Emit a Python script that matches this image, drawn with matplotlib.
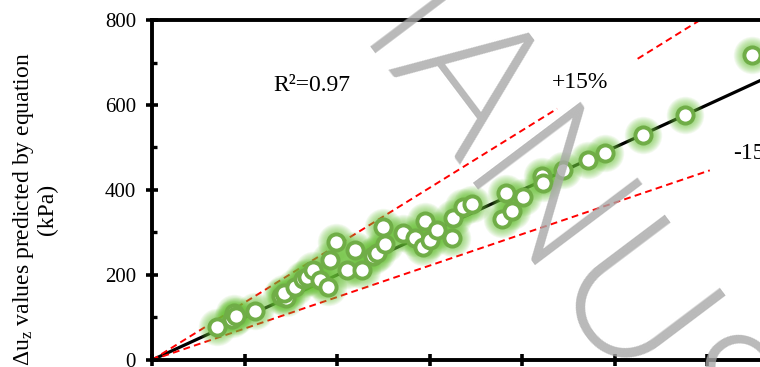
import numpy as np
import matplotlib
matplotlib.use('Agg')
import matplotlib.pyplot as plt

plt.rcParams['font.family'] = ['Liberation Serif', 'DejaVu Serif']
plt.rcParams['mathtext.fontset'] = 'custom'
plt.rcParams['mathtext.rm'] = 'Liberation Serif'
plt.rcParams['mathtext.it'] = 'Liberation Serif:italic'

# measured vs. predicted excess pore pressure (kPa)
measured_kpa = [70, 87, 89, 91, 111, 139, 145, 143, 155, 163, 168, 174, 182, 190,
                192, 199, 211, 219, 227, 239, 243, 250, 252, 271, 284, 293, 295,
                301, 308, 324, 325, 336, 346, 378, 383, 389, 401, 422, 423, 444,
                471, 490, 531, 576, 649]
predicted_kpa = [77, 97, 111, 104, 115, 151, 146, 158, 172, 191, 195, 212, 188, 172,
                 235, 278, 212, 259, 212, 245, 252, 313, 273, 299, 287, 266, 327,
                 282, 306, 287, 334, 360, 367, 332, 393, 351, 384, 433, 417, 447,
                 471, 487, 529, 577, 718]

fit_slope = 1.0
upper_slope = 1.35
lower_slope = 0.74
r_squared = 0.97

GREEN = '#70AD47'
GLOW = '#6cc53a'

fig = plt.figure(figsize=(7.6, 3.67), dpi=100)
ax = fig.add_axes([0.2, 0.0191, 0.9737, 0.9264])
ax.set_xlim(0, 800)
ax.set_ylim(0, 800)

# 1:1 fit and +/-15% bounds
xf = np.array([0, 800])
ax.plot(xf, fit_slope * xf, color='black', lw=2.3, zorder=2, solid_capstyle='butt')
for seg in ([0, 438], [525, 800 / upper_slope]):
    xs = np.array(seg)
    ax.plot(xs, upper_slope * xs, color='red', lw=1.4, dashes=(3.5, 2.2), zorder=2)
xs = np.array([0, 603])
ax.plot(xs, lower_slope * xs, color='red', lw=1.4, dashes=(3.5, 2.2), zorder=2)

# soft glow under each marker
for d in np.linspace(13, 27, 12):
    ax.scatter(measured_kpa, predicted_kpa, s=d ** 2, color=GLOW, alpha=0.08,
               linewidths=0, zorder=3)
ax.scatter(measured_kpa, predicted_kpa, s=135, facecolor='white', edgecolor=GREEN,
           linewidths=2.8, zorder=4)

ax.text(131, 647, 'R²=%.2f' % r_squared, fontsize=17, ha='left', va='center')
ax.text(432, 652, '+15%', fontsize=17, ha='left', va='center')
ax.text(628, 487, '-15%', fontsize=17, ha='left', va='center')

ax.set_xticks(np.arange(0, 801, 100))
ax.set_xticklabels([])
ax.set_yticks(np.arange(0, 801, 200))
ax.set_yticks(np.arange(100, 800, 200), minor=True)
ax.tick_params(axis='both', which='major', direction='inout', length=9, width=2.6,
               labelsize=15, pad=7)
ax.tick_params(axis='y', which='minor', direction='in', length=3.5, width=2.4)
for side in ['left', 'top', 'bottom', 'right']:
    ax.spines[side].set_linewidth(2.8)

fig.text(0.045, 0.43, 'Δu$_{\\mathrm{z}}$ values predicted by equation\n(kPa)',
         rotation=90, ha='center', va='center', multialignment='center', fontsize=17,
         linespacing=1.05)

# watermark
fig.text(0.362, 1.145, 'MANUSCRIPT', family=['Lato', 'Liberation Sans'],
         fontweight=300, fontsize=136, color='#a8a8a8', alpha=0.8,
         rotation=-53, rotation_mode='anchor', ha='left', va='baseline', zorder=10)

fig.savefig('out.png', dpi=100)
